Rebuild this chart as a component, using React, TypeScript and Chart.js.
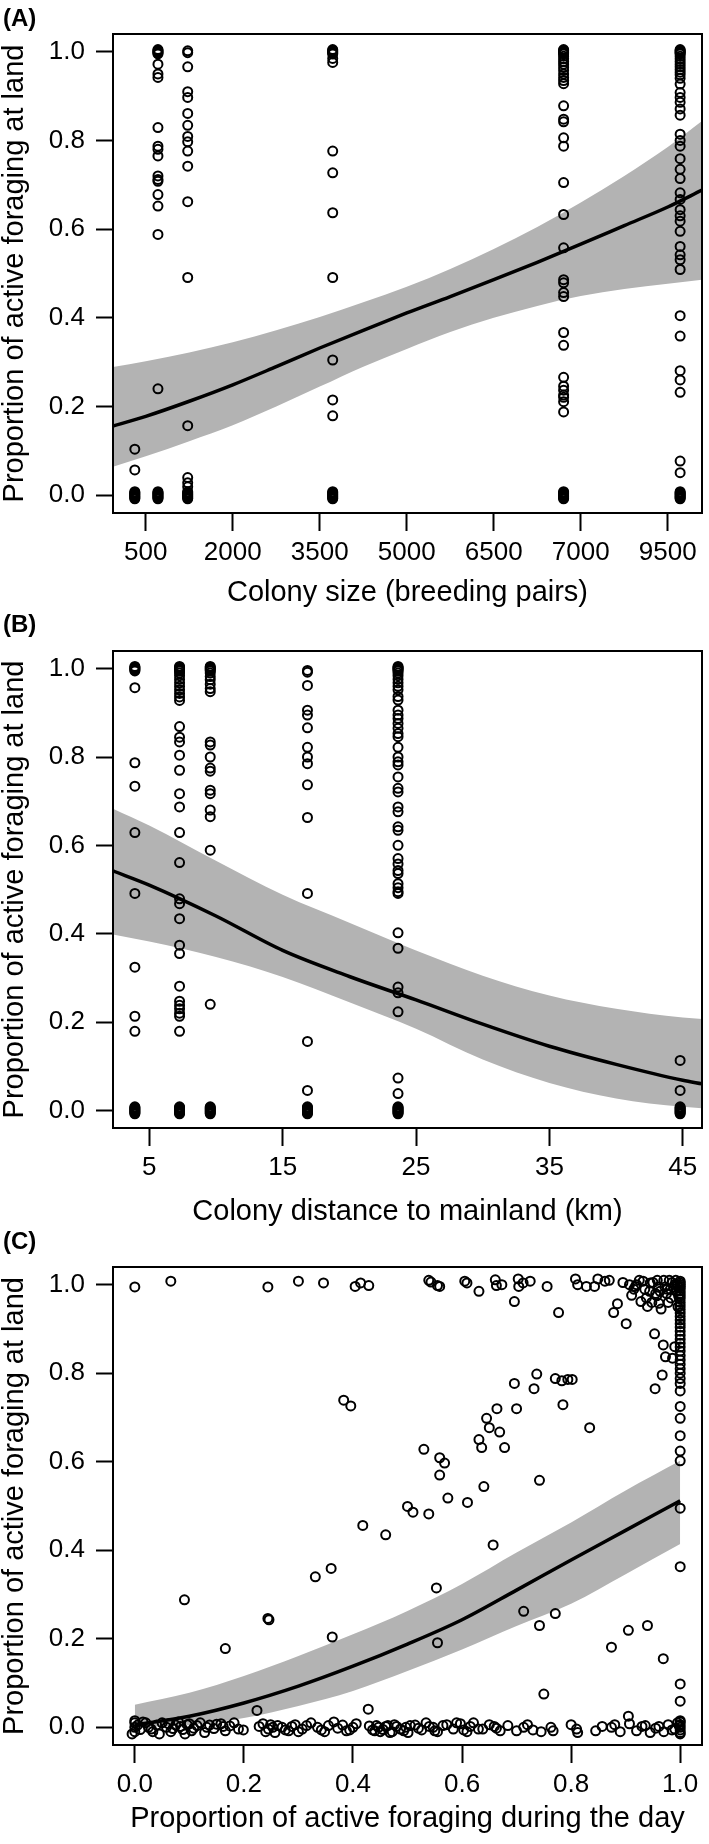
import React, { useEffect, useRef } from 'react';
import { Chart, registerables } from 'chart.js';
Chart.register(...registerables);

const FONT = '"Liberation Sans", Arial, Helvetica, sans-serif';
const BAND = '#B3B3B3';

// ---------- shared tick values ----------
const yTicks = [0, 0.2, 0.4, 0.6, 0.8, 1.0];
const yTickLabels = ['0.0', '0.2', '0.4', '0.6', '0.8', '1.0'];
const zeroCluster = [0.008, 0.006, 0.004, 0.002, 0, -0.002, -0.004, -0.006, -0.008];
const oneCluster = [1.005, 1.003, 1.001, 0.999, 0.997, 0.995];

// ---------- Panel A : colony size ----------
const aXTicks = [500, 2000, 3500, 5000, 6500, 8000, 9500];
const aXTickLabels = ['500', '2000', '3500', '5000', '6500', '7000', '9500'];
const aColumns = [311, 710, 1223, 3723, 7704, 9713];
const aCol1 = [0.104, 0.057];
const aCol2 = [0.972, 0.95, 0.942, 0.829, 0.787, 0.78, 0.765, 0.72, 0.712, 0.708, 0.678, 0.652, 0.588, 0.24];
const aCol3 = [1.002, 0.998, 0.966, 0.91, 0.897, 0.861, 0.834, 0.809, 0.797, 0.776, 0.742, 0.662, 0.491, 0.157, 0.04, 0.028, 0.019];
const aCol4 = [0.985, 0.976, 0.776, 0.727, 0.637, 0.491, 0.305, 0.215, 0.179];
const aCol5 = [0.99, 0.984, 0.978, 0.972, 0.965, 0.958, 0.95, 0.942, 0.935, 0.928, 0.878, 0.848, 0.842, 0.806, 0.787, 0.705, 0.633, 0.558, 0.486, 0.479, 0.457, 0.448, 0.367, 0.338, 0.266, 0.246, 0.237, 0.226, 0.221, 0.211, 0.188];
const aCol6 = [0.99, 0.984, 0.978, 0.972, 0.966, 0.96, 0.954, 0.948, 0.94, 0.927, 0.908, 0.897, 0.886, 0.871, 0.857, 0.814, 0.8, 0.787, 0.759, 0.735, 0.714, 0.682, 0.667, 0.644, 0.63, 0.618, 0.595, 0.561, 0.542, 0.531, 0.509, 0.405, 0.359, 0.281, 0.26, 0.232, 0.077, 0.051];
const aColHasOnes = [false, true, false, true, true, true];
const aColValues = [aCol1, aCol2, aCol3, aCol4, aCol5, aCol6];

const aBandX = [-65, 500, 1250, 2000, 2750, 3500, 4250, 5000, 5750, 6500, 7250, 8000, 8750, 9500, 10090];
const aFit = [0.156, 0.178, 0.212, 0.249, 0.29, 0.332, 0.372, 0.411, 0.448, 0.486, 0.525, 0.566, 0.608, 0.65, 0.688];
const aLow = [0.064, 0.088, 0.122, 0.158, 0.2, 0.245, 0.29, 0.33, 0.368, 0.4, 0.427, 0.449, 0.465, 0.477, 0.486];
const aHigh = [0.289, 0.302, 0.322, 0.345, 0.372, 0.402, 0.435, 0.47, 0.51, 0.555, 0.605, 0.66, 0.72, 0.785, 0.844];

// ---------- Panel B : distance to mainland ----------
const bXTicks = [5, 15, 25, 35, 45];
const bXTickLabels = ['5', '15', '25', '35', '45'];
const bColumns = [3.92, 7.27, 9.57, 16.86, 23.65, 44.8];
const bCol1 = [0.957, 0.787, 0.734, 0.629, 0.491, 0.324, 0.213, 0.179];
const bCol2 = [0.99, 0.984, 0.976, 0.968, 0.96, 0.952, 0.944, 0.936, 0.928, 0.869, 0.845, 0.834, 0.804, 0.77, 0.717, 0.687, 0.629, 0.561, 0.479, 0.468, 0.434, 0.374, 0.355, 0.281, 0.247, 0.238, 0.23, 0.22, 0.213, 0.179];
const bCol3 = [0.99, 0.982, 0.975, 0.965, 0.955, 0.948, 0.834, 0.827, 0.8, 0.775, 0.768, 0.725, 0.717, 0.68, 0.665, 0.589, 0.24];
const bCol4 = [0.996, 0.992, 0.962, 0.906, 0.895, 0.866, 0.822, 0.8, 0.785, 0.737, 0.663, 0.491, 0.156, 0.045];
const bCol5 = [0.99, 0.984, 0.976, 0.968, 0.96, 0.952, 0.937, 0.929, 0.906, 0.895, 0.887, 0.876, 0.865, 0.853, 0.846, 0.822, 0.8, 0.789, 0.782, 0.755, 0.729, 0.721, 0.687, 0.676, 0.642, 0.634, 0.6, 0.57, 0.558, 0.543, 0.536, 0.513, 0.504, 0.495, 0.491, 0.402, 0.367, 0.279, 0.266, 0.223, 0.073, 0.038];
const bCol6 = [0.113, 0.045];
const bColHasOnes = [true, true, true, false, true, false];
const bColValues = [bCol1, bCol2, bCol3, bCol4, bCol5, bCol6];

const bBandX = [2.28, 5, 10, 15, 20, 25, 30, 35, 40, 45, 46.44];
const bFit = [0.542, 0.51, 0.44, 0.362, 0.303, 0.25, 0.195, 0.145, 0.104, 0.068, 0.06];
const bLow = [0.398, 0.382, 0.347, 0.302, 0.245, 0.185, 0.115, 0.062, 0.027, 0.008, 0.005];
const bHigh = [0.683, 0.645, 0.565, 0.488, 0.425, 0.362, 0.305, 0.26, 0.23, 0.21, 0.207];

// ---------- Panel C : active foraging during the day ----------
const cXTicks = [0, 0.2, 0.4, 0.6, 0.8, 1.0];
const cXTickLabels = ['0.0', '0.2', '0.4', '0.6', '0.8', '1.0'];
const cTopX = [0.0, 0.066, 0.244, 0.3, 0.346, 0.404, 0.414, 0.429, 0.539, 0.543, 0.555, 0.559, 0.605, 0.609, 0.631, 0.661, 0.663, 0.673, 0.696, 0.703, 0.704, 0.712, 0.725, 0.756, 0.777, 0.808, 0.812, 0.828, 0.843, 0.849, 0.862, 0.87, 0.878, 0.885, 0.895, 0.901, 0.907, 0.911, 0.915, 0.918, 0.92, 0.925, 0.928, 0.932, 0.935, 0.938, 0.94, 0.944, 0.945, 0.948, 0.95, 0.953, 0.955, 0.957, 0.958, 0.96, 0.961, 0.963, 0.965, 0.969, 0.97, 0.972, 0.973, 0.975, 0.976, 0.978, 0.98, 0.982, 0.983, 0.985, 0.986, 0.988, 0.99, 0.99, 0.992, 0.993, 0.995, 0.996, 0.997];
const cTopY = [0.995, 1.008, 0.995, 1.008, 1.004, 0.996, 1.004, 0.998, 1.01, 1.006, 0.998, 0.996, 1.008, 1.004, 0.985, 1.011, 0.998, 1.0, 0.962, 1.013, 0.996, 1.004, 1.008, 0.996, 0.937, 1.013, 1.0, 0.996, 0.996, 1.013, 1.008, 1.01, 0.937, 0.957, 1.005, 0.912, 1.0, 0.976, 0.99, 0.996, 1.0, 1.01, 0.962, 1.008, 0.99, 0.97, 0.951, 0.985, 1.004, 0.96, 1.005, 0.889, 0.98, 0.975, 1.01, 0.995, 0.958, 0.985, 0.945, 0.864, 1.01, 0.995, 0.837, 0.98, 0.99, 0.96, 1.01, 0.99, 0.97, 1.005, 0.834, 0.995, 0.86, 1.0, 1.01, 0.985, 1.0, 0.95, 0.975];
const cEdgeY = [1.008, 1.004, 1.0, 0.996, 0.992, 0.986, 0.98, 0.974, 0.968, 0.96, 0.952, 0.944, 0.936, 0.928, 0.92, 0.912, 0.904, 0.895, 0.886, 0.877, 0.868, 0.859, 0.85, 0.84, 0.83, 0.82, 0.81, 0.8, 0.788, 0.777, 0.76, 0.725, 0.698, 0.659, 0.624, 0.602, 0.495, 0.363, 0.098, 0.059];
const cMidX = [0.091, 0.166, 0.224, 0.244, 0.246, 0.331, 0.36, 0.362, 0.383, 0.396, 0.418, 0.428, 0.46, 0.5, 0.51, 0.539, 0.53, 0.559, 0.568, 0.559, 0.574, 0.553, 0.555, 0.61, 0.631, 0.636, 0.64, 0.645, 0.65, 0.657, 0.664, 0.669, 0.678, 0.696, 0.7, 0.713, 0.732, 0.737, 0.742, 0.742, 0.75, 0.771, 0.783, 0.794, 0.802, 0.785, 0.771, 0.834, 0.874, 0.905, 0.905, 0.94, 0.954, 0.967, 0.969];
const cMidY = [0.288, 0.178, 0.038, 0.246, 0.243, 0.34, 0.359, 0.204, 0.739, 0.726, 0.456, 0.041, 0.435, 0.499, 0.486, 0.482, 0.628, 0.609, 0.597, 0.57, 0.518, 0.315, 0.191, 0.508, 0.65, 0.632, 0.544, 0.698, 0.677, 0.412, 0.72, 0.667, 0.632, 0.777, 0.72, 0.262, 0.765, 0.798, 0.558, 0.23, 0.075, 0.788, 0.783, 0.786, 0.786, 0.729, 0.257, 0.677, 0.181, 0.219, 0.025, 0.23, 0.765, 0.796, 0.155];
const cBottomX = [0.0, 0.0, 0.0, 0.0, -0.005, 0.005, 0.01, 0.015, 0.02, 0.025, 0.03, 0.033, 0.04, 0.045, 0.05, 0.058, 0.062, 0.066, 0.07, 0.075, 0.08, 0.084, 0.088, 0.092, 0.096, 0.1, 0.104, 0.108, 0.114, 0.12, 0.128, 0.132, 0.137, 0.145, 0.15, 0.158, 0.162, 0.166, 0.174, 0.182, 0.19, 0.199, 0.228, 0.235, 0.24, 0.245, 0.249, 0.253, 0.257, 0.262, 0.27, 0.276, 0.282, 0.288, 0.294, 0.3, 0.307, 0.315, 0.323, 0.335, 0.342, 0.348, 0.355, 0.365, 0.372, 0.381, 0.388, 0.394, 0.4, 0.406, 0.43, 0.436, 0.44, 0.443, 0.447, 0.45, 0.455, 0.46, 0.464, 0.468, 0.472, 0.476, 0.48, 0.487, 0.493, 0.497, 0.501, 0.505, 0.514, 0.52, 0.526, 0.534, 0.54, 0.547, 0.55, 0.555, 0.565, 0.572, 0.584, 0.59, 0.597, 0.603, 0.609, 0.615, 0.621, 0.63, 0.638, 0.65, 0.659, 0.663, 0.67, 0.684, 0.7, 0.713, 0.72, 0.73, 0.745, 0.763, 0.767, 0.8, 0.81, 0.812, 0.845, 0.857, 0.874, 0.88, 0.89, 0.907, 0.92, 0.93, 0.936, 0.945, 0.955, 0.961, 0.97, 0.978, 0.985, 0.99, 0.995, 0.998, 1.0, 1.0, 1.0, 1.0, 1.0, 1.0, 1.0];
const cBottomY = [0.01, -0.01, 0.0, 0.015, -0.015, 0.005, -0.005, 0.012, 0.01, 0.0, -0.004, -0.01, 0.005, -0.015, 0.01, 0.0, 0.008, -0.01, -0.003, 0.005, 0.012, 0.002, -0.005, -0.015, 0.006, 0.008, -0.008, -0.002, 0.004, 0.01, -0.012, 0.0, 0.005, -0.003, 0.007, 0.008, 0.002, -0.008, 0.003, 0.01, -0.004, -0.006, 0.002, 0.008, -0.01, -0.004, 0.006, 0.0, -0.012, 0.004, 0.0, -0.006, -0.008, 0.002, 0.006, -0.01, -0.004, 0.004, 0.01, 0.0, -0.006, -0.01, 0.004, 0.012, -0.002, 0.005, -0.008, -0.006, 0.0, 0.008, 0.003, -0.006, -0.008, 0.004, 0.0, -0.01, -0.005, 0.002, 0.004, -0.012, -0.01, 0.006, 0.002, -0.004, -0.008, 0.0, -0.012, 0.004, 0.005, -0.002, -0.006, 0.01, 0.002, 0.0, -0.008, -0.01, 0.004, 0.006, -0.004, 0.01, 0.008, -0.006, -0.01, 0.002, 0.01, -0.004, -0.004, 0.006, 0.002, -0.002, -0.008, 0.004, -0.008, 0.0, 0.006, -0.006, -0.01, 0.0, -0.008, 0.006, -0.004, -0.012, -0.008, 0.002, 0.0, 0.006, -0.01, 0.008, -0.008, 0.002, 0.004, -0.012, -0.002, 0.002, -0.01, 0.006, -0.006, -0.004, 0.01, 0.004, 0.0, -0.012, 0.012, -0.006, 0.006, -0.015, 0.015];

const cBandX = [0, 0.1, 0.2, 0.3, 0.4, 0.5, 0.6, 0.7, 0.8, 0.9, 1.0];
const cFit = [0.005, 0.025, 0.055, 0.093, 0.138, 0.188, 0.243, 0.31, 0.378, 0.445, 0.512];
const cLow = [0.0, 0.005, 0.021, 0.048, 0.082, 0.127, 0.176, 0.229, 0.279, 0.346, 0.414];
const cHigh = [0.051, 0.078, 0.116, 0.161, 0.21, 0.263, 0.324, 0.395, 0.463, 0.535, 0.602];

// ---------- builders ----------
function columnPoints(columns: number[], values: number[][], hasOnes: boolean[]) {
  const pts: { x: number; y: number }[] = [];
  columns.forEach((x, i) => {
    if (hasOnes[i]) oneCluster.forEach((y) => pts.push({ x, y }));
    values[i].forEach((y) => pts.push({ x, y }));
    zeroCluster.forEach((y) => pts.push({ x, y }));
  });
  return pts;
}

function pairPoints(xs: number[], ys: number[]) {
  return xs.map((x, i) => ({ x, y: ys[i] }));
}

const boxPlugin = {
  id: 'panelBox',
  afterDraw(chart: any, _args: any, opts: any) {
    const { ctx, chartArea } = chart;
    ctx.save();
    ctx.strokeStyle = '#000';
    ctx.lineWidth = 2;
    ctx.strokeRect(chartArea.left, chartArea.top, chartArea.right - chartArea.left, chartArea.bottom - chartArea.top);
    ctx.fillStyle = '#000';
    ctx.font = 'bold 24px ' + FONT;
    ctx.textBaseline = 'alphabetic';
    ctx.textAlign = 'left';
    ctx.fillText(opts.label, 3, opts.labelY);
    ctx.restore();
  },
};

interface PanelSpec {
  label: string;
  labelY: number;
  height: number;
  boxTop: number;
  boxBottom: number;
  xMin: number;
  xMax: number;
  xTicks: number[];
  xTickLabels: string[];
  xTitle: string;
  titlePad: number;
  points: { x: number; y: number }[];
  bandX: number[];
  fit: number[];
  low: number[];
  high: number[];
}

function makeConfig(p: PanelSpec): any {
  return {
    type: 'scatter',
    data: {
      datasets: [
        {
          type: 'line',
          data: pairPoints(p.bandX, p.low),
          borderColor: 'rgba(0,0,0,0)',
          borderWidth: 0,
          pointRadius: 0,
          fill: false,
          cubicInterpolationMode: 'monotone',
          order: 4,
        },
        {
          type: 'line',
          data: pairPoints(p.bandX, p.high),
          borderColor: 'rgba(0,0,0,0)',
          borderWidth: 0,
          pointRadius: 0,
          backgroundColor: BAND,
          fill: '-1',
          cubicInterpolationMode: 'monotone',
          order: 3,
        },
        {
          type: 'line',
          data: pairPoints(p.bandX, p.fit),
          borderColor: '#000',
          borderWidth: 3.5,
          pointRadius: 0,
          fill: false,
          cubicInterpolationMode: 'monotone',
          order: 2,
        },
        {
          type: 'scatter',
          data: p.points,
          pointRadius: 4.5,
          pointBorderWidth: 2,
          pointBorderColor: '#000',
          pointBackgroundColor: 'rgba(0,0,0,0)',
          order: 1,
        },
      ],
    },
    options: {
      animation: false,
      responsive: false,
      devicePixelRatio: 1,
      events: [],
      layout: { padding: { left: 0, top: p.boxTop, right: 7, bottom: 0 } },
      plugins: {
        legend: { display: false },
        tooltip: { enabled: false },
        panelBox: { label: p.label, labelY: p.labelY },
      },
      scales: {
        x: {
          type: 'linear',
          min: p.xMin,
          max: p.xMax,
          afterBuildTicks: (s: any) => {
            s.ticks = p.xTicks.map((v) => ({ value: v }));
          },
          afterFit: (s: any) => {
            s.height = p.height - p.boxBottom;
          },
          border: { display: false },
          grid: {
            display: true,
            drawOnChartArea: false,
            drawTicks: true,
            tickLength: 18,
            tickWidth: 2,
            tickColor: '#000',
          },
          ticks: {
            autoSkip: false,
            maxRotation: 0,
            minRotation: 0,
            padding: 6,
            color: '#000',
            font: { family: FONT, size: 26 },
            callback: (_v: any, i: number) => p.xTickLabels[i],
          },
          title: {
            display: true,
            text: p.xTitle,
            color: '#000',
            font: { family: FONT, size: 29, lineHeight: 1 },
            padding: { top: 0, bottom: p.titlePad },
          },
        },
        y: {
          type: 'linear',
          min: -0.04,
          max: 1.04,
          afterBuildTicks: (s: any) => {
            s.ticks = yTicks.map((v) => ({ value: v }));
          },
          afterFit: (s: any) => {
            s.width = 113;
          },
          border: { display: false },
          grid: {
            display: true,
            drawOnChartArea: false,
            drawTicks: true,
            tickLength: 17,
            tickWidth: 2,
            tickColor: '#000',
          },
          ticks: {
            padding: 11,
            color: '#000',
            font: { family: FONT, size: 26 },
            callback: (_v: any, i: number) => yTickLabels[i],
          },
          title: {
            display: true,
            text: 'Proportion of active foraging at land',
            color: '#000',
            font: { family: FONT, size: 29, lineHeight: 1 },
            padding: { top: 0.5, bottom: 0 },
          },
        },
      },
    },
    plugins: [boxPlugin],
  };
}

const panelA: PanelSpec = {
  label: '(A)',
  labelY: 26,
  height: 612,
  boxTop: 34,
  boxBottom: 513,
  xMin: -65,
  xMax: 10090,
  xTicks: aXTicks,
  xTickLabels: aXTickLabels,
  xTitle: 'Colony size (breeding pairs)',
  titlePad: 4.5,
  points: columnPoints(aColumns, aColValues, aColHasOnes),
  bandX: aBandX,
  fit: aFit,
  low: aLow,
  high: aHigh,
};

const panelB: PanelSpec = {
  label: '(B)',
  labelY: 20,
  height: 617,
  boxTop: 39,
  boxBottom: 516,
  xMin: 2.28,
  xMax: 46.44,
  xTicks: bXTicks,
  xTickLabels: bXTickLabels,
  xTitle: 'Colony distance to mainland (km)',
  titlePad: 2.5,
  points: columnPoints(bColumns, bColValues, bColHasOnes),
  bandX: bBandX,
  fit: bFit,
  low: bLow,
  high: bHigh,
};

const panelC: PanelSpec = {
  label: '(C)',
  labelY: 20,
  height: 615,
  boxTop: 38,
  boxBottom: 516,
  xMin: -0.04,
  xMax: 1.04,
  xTicks: cXTicks,
  xTickLabels: cXTickLabels,
  xTitle: 'Proportion of active foraging during the day',
  titlePad: 10.5,
  points: [
    ...pairPoints(cTopX, cTopY),
    ...cEdgeY.map((y) => ({ x: 1.0, y })),
    ...pairPoints(cMidX, cMidY),
    ...pairPoints(cBottomX, cBottomY),
  ],
  bandX: cBandX,
  fit: cFit,
  low: cLow,
  high: cHigh,
};

function Panel({ spec, top }: { spec: PanelSpec; top: number }) {
  const ref = useRef<HTMLCanvasElement | null>(null);
  useEffect(() => {
    if (!ref.current) return;
    const chart = new Chart(ref.current, makeConfig(spec));
    return () => chart.destroy();
  }, [spec]);
  return (
    <canvas
      ref={ref}
      width={709}
      height={spec.height}
      style={{ position: 'absolute', left: 0, top, width: 709, height: spec.height, display: 'block' }}
    />
  );
}

export default function App() {
  return (
    <div style={{ position: 'absolute', left: 0, top: 0, width: 709, height: 1844, background: '#fff', overflow: 'hidden' }}>
      <Panel spec={panelA} top={0} />
      <Panel spec={panelB} top={612} />
      <Panel spec={panelC} top={1229} />
    </div>
  );
}
